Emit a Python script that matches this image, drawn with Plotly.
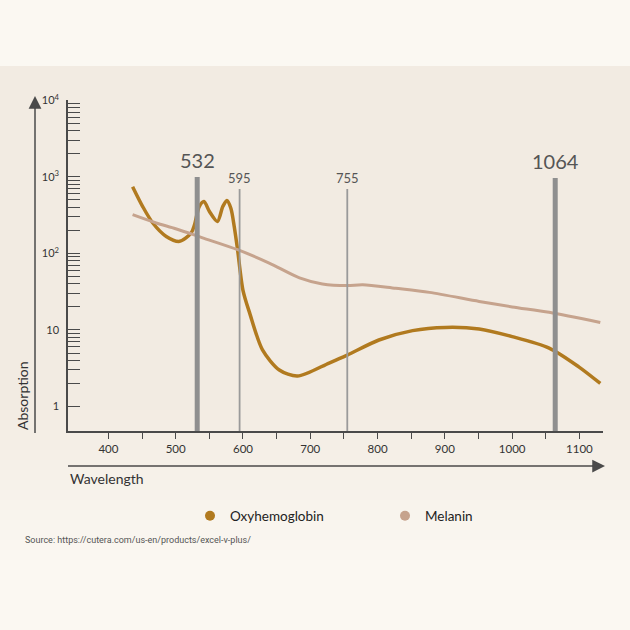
import plotly.graph_objects as go

# absorption curves (nm, relative absorption)
oxy_wl = [436, 451, 466, 486, 506, 523, 528, 535, 542, 550, 562, 570, 576, 582, 587, 592,
          600, 610, 629, 654, 681, 728, 755, 802, 852, 901, 951, 1000, 1055, 1099, 1131]
oxy_abs = [745, 410, 250, 167, 144, 185, 237, 410, 478, 355, 262, 410, 492, 390, 225, 112,
           33, 16.6, 5.5, 3.0, 2.5, 3.7, 4.7, 7.4, 9.8, 10.8, 10.3, 8.2, 5.8, 3.3, 2.0]

mel_wl = [436, 471, 500, 540, 592, 639, 684, 718, 755, 778, 827, 877, 951, 1000, 1055, 1131]
mel_abs = [321, 250, 210, 160, 112, 75, 48, 40, 38, 39, 35, 31, 23.6, 20, 17, 12.5]

# laser wavelengths marked on the chart
laser_wl = [532, 595, 755, 1064]
laser_major = [True, False, False, True]

x_ticks = list(range(400, 1101, 50))
x_labels = [str(v) if v % 100 == 0 else "" for v in x_ticks]

y_ticks = [m * 10 ** d for d in range(0, 4) for m in range(1, 10)] + [10000]
y_label_map = {1: "1", 10: "10", 100: "10<sup>2</sup>", 1000: "10<sup>3</sup>", 10000: "10<sup>4</sup>"}
y_labels = [y_label_map.get(v, "") for v in y_ticks]

OXY = "#B17A1F"
MEL = "#C6A38D"
AXIS = "#4A4A4A"
FONT = "Lato"

fig = go.Figure()

fig.add_trace(go.Scatter(x=oxy_wl, y=oxy_abs, mode="lines", showlegend=False,
                         line=dict(color=OXY, width=3.5, shape="spline", smoothing=0.8)))
fig.add_trace(go.Scatter(x=mel_wl, y=mel_abs, mode="lines", showlegend=False,
                         line=dict(color=MEL, width=3, shape="spline", smoothing=0.8)))
# legend entries as dots
fig.add_trace(go.Scatter(x=[None], y=[None], mode="markers", name="Oxyhemoglobin",
                         marker=dict(color=OXY, size=10)))
fig.add_trace(go.Scatter(x=[None], y=[None], mode="markers", name="Melanin",
                         marker=dict(color=MEL, size=10)))

# background band with a soft fade at the bottom
H = 331.0
def py(pix):
    return (431 - pix) / H

def px(pix):
    return (pix - 68) / 535.0

shapes = [dict(type="rect", xref="paper", yref="paper", x0=-0.2, x1=1.2,
               y0=py(400), y1=py(66), fillcolor="#F2EBE2", line_width=0, layer="below")]
top = (0xF2, 0xEB, 0xE2)
bot = (0xFB, 0xF8, 0xF2)
steps = 17
for i in range(steps):
    t = (i + 0.5) / steps
    c = tuple(round(a + (b - a) * t) for a, b in zip(top, bot))
    shapes.append(dict(type="rect", xref="paper", yref="paper", x0=-0.2, x1=1.2,
                       y0=py(400 + (i + 1) * 10), y1=py(400 + i * 10),
                       fillcolor="#%02X%02X%02X" % c, line_width=0, layer="below"))

tops = {532: 177, 595: 189, 755: 189, 1064: 178}
for wl, major in zip(laser_wl, laser_major):
    shapes.append(dict(type="line", xref="x", yref="paper", x0=wl, x1=wl,
                       y0=0, y1=py(tops[wl]),
                       line=dict(color="#8F8F8F" if major else "#9A9A9A", width=5 if major else 1.8)))
    fig.add_annotation(x=wl, y=py(tops[wl] - 17 if major else tops[wl] - 11), xref="x", yref="paper",
                       text=str(wl), showarrow=False, xanchor="center", yanchor="middle",
                       font=dict(family=FONT, size=20 if major else 13, color="#555555"))

# wavelength axis arrow line
shapes.append(dict(type="line", xref="paper", yref="paper", x0=0, x1=px(594),
                   y0=py(466), y1=py(466), line=dict(color=AXIS, width=1.5)))
# absorption axis arrow line
shapes.append(dict(type="line", xref="paper", yref="paper", x0=px(35), x1=px(35),
                   y0=py(433), y1=py(108), line=dict(color=AXIS, width=1.5)))
fig.update_layout(shapes=shapes)

# arrow heads
fig.add_annotation(x=px(605), y=py(466), xref="paper", yref="paper", text="", showarrow=True,
                   ax=-14, ay=0, arrowhead=2, arrowsize=1.7, arrowwidth=1.5, arrowcolor=AXIS)
fig.add_annotation(x=px(35), y=py(96), xref="paper", yref="paper", text="", showarrow=True,
                   ax=0, ay=14, arrowhead=2, arrowsize=1.7, arrowwidth=1.5, arrowcolor=AXIS)

fig.add_annotation(x=0, y=py(478), xref="paper", yref="paper", text="Wavelength", showarrow=False,
                   xanchor="left", yanchor="middle", font=dict(family=FONT, size=14, color="#333333"))
fig.add_annotation(x=px(22), y=py(396), xref="paper", yref="paper", text="Absorption",
                   showarrow=False, textangle=-90, xanchor="center", yanchor="middle",
                   font=dict(family=FONT, size=14, color="#333333"))
fig.add_annotation(x=px(23), y=py(540), xref="paper", yref="paper",
                   text="Source: https://cutera.com/us-en/products/excel-v-plus/",
                   showarrow=False, xanchor="left", yanchor="middle",
                   font=dict(family="Roboto", size=9, color="#555555"))

fig.update_layout(
    width=630, height=630,
    margin=dict(l=68, r=27, t=100, b=199),
    paper_bgcolor="#FBF8F2",
    plot_bgcolor="rgba(0,0,0,0)",
    font=dict(family=FONT, color=AXIS),
    legend=dict(orientation="h", x=px(190), xanchor="left", y=py(516), yanchor="middle",
                font=dict(family=FONT, size=13.5, color="#222222"),
                bgcolor="rgba(0,0,0,0)", entrywidth=150),
    xaxis=dict(range=[340, 1135], tickvals=x_ticks, ticktext=x_labels, ticks="outside",
               ticklen=6, tickcolor=AXIS, tickwidth=1.3, showline=True, linecolor=AXIS,
               linewidth=1.5, showgrid=False, zeroline=False,
               tickfont=dict(family=FONT, size=11.5, color="#333333")),
    yaxis=dict(type="log", range=[-0.32, 4.005], tickvals=y_ticks, ticktext=y_labels,
               ticks="inside", ticklen=12, tickcolor=AXIS, tickwidth=1.3, showline=True,
               linecolor=AXIS, linewidth=1.5, showgrid=False, zeroline=False,
               ticklabelstandoff=5,
               tickfont=dict(family=FONT, size=11, color="#333333")),
)

fig.write_html("out.html", config={"displayModeBar": False},
               post_script="document.body.style.margin='0';")
